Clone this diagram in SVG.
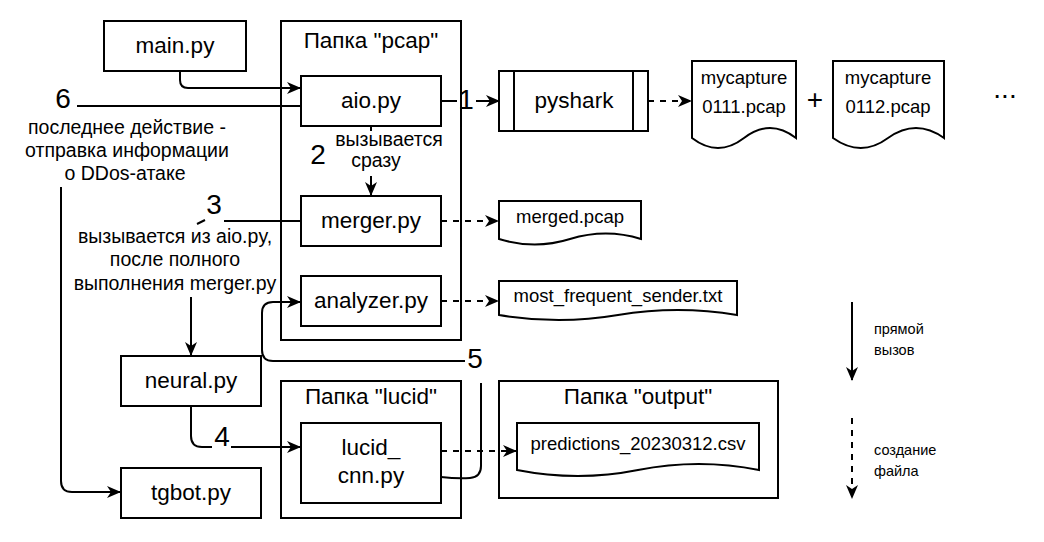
<svg xmlns="http://www.w3.org/2000/svg" width="1044" height="542" viewBox="0 0 1044 542">
<style>
.box{fill:#fff;stroke:#000;stroke-width:2}
.folder{fill:none;stroke:#000;stroke-width:2}
.doc{fill:#fff;stroke:#000;stroke-width:2}
.ln{fill:none;stroke:#000;stroke-width:2}
.dash{stroke-dasharray:6 6}
text{font-family:"Liberation Sans",Arial,sans-serif;fill:#000}
.t22{font-size:22.5px;text-anchor:middle}
.t18{font-size:18.5px;text-anchor:middle}
.t19{font-size:19.5px;text-anchor:middle}
.num{font-size:28px;text-anchor:middle}
.leg{font-size:14.5px}
</style>
<defs>
<marker id="ah" viewBox="0 0 14 12" refX="13" refY="6" markerWidth="14" markerHeight="12" markerUnits="userSpaceOnUse" orient="auto">
<path d="M0,0 L14,6 L0,12 L4,6 Z" fill="#000"/>
</marker>
</defs>
<g id="pcap-folder">
<rect class="folder" x="281" y="21" width="180" height="319"/>
<text class="t22" x="371" y="48">Папка "pcap"</text>
</g>
<g id="lucid-folder">
<rect class="folder" x="281" y="381" width="180" height="137"/>
<text class="t22" x="371" y="404">Папка "lucid"</text>
</g>
<g id="output-folder">
<rect class="folder" x="499" y="381" width="279" height="117"/>
<text class="t22" x="638" y="404">Папка "output"</text>
</g>
<g id="main">
<rect class="box" x="104" y="21" width="142" height="50"/>
<text class="t22" x="175" y="53">main.py</text>
</g>
<g id="aio">
<rect class="box" x="301" y="76" width="140" height="50"/>
<text class="t22" x="371" y="108">aio.py</text>
</g>
<g id="merger">
<rect class="box" x="301" y="196" width="140" height="50"/>
<text class="t22" x="371" y="228">merger.py</text>
</g>
<g id="analyzer">
<rect class="box" x="301" y="276" width="140" height="50"/>
<text class="t22" x="371" y="308">analyzer.py</text>
</g>
<g id="pyshark">
<rect class="box" x="499" y="71" width="149" height="60"/>
<line class="ln" x1="514" y1="71" x2="514" y2="131"/>
<line class="ln" x1="633" y1="71" x2="633" y2="131"/>
<text class="t22" x="574" y="108">pyshark</text>
</g>
<g id="capture1">
<path class="doc" d="M692,61 L796,61 L796,138 Q770,118 744,138 Q718,158 692,138 Z"/>
<text class="t18" x="744" y="84">mycapture</text>
<text class="t18" x="744" y="113">0111.pcap</text>
</g>
<text class="num" x="815" y="109">+</text>
<g id="capture2">
<path class="doc" d="M833,61 L944,61 L944,138 Q916,118 888,138 Q861,158 833,138 Z"/>
<text class="t18" x="888" y="84">mycapture</text>
<text class="t18" x="888" y="113">0112.pcap</text>
</g>
<text class="num" x="1005" y="98">...</text>
<g id="merged">
<path class="doc" d="M499,201 L641,201 L641,239 Q606,228 570,239 Q535,250 499,239 Z"/>
<text class="t18" x="570" y="223">merged.pcap</text>
</g>
<g id="most-frequent">
<path class="doc" d="M499,281 L737,281 L737,315 Q678,305 618,315 Q559,325 499,315 Z"/>
<text class="t18" x="618" y="302">most_frequent_sender.txt</text>
</g>
<g id="neural">
<rect class="box" x="121" y="356" width="140" height="50"/>
<text class="t22" x="191" y="388">neural.py</text>
</g>
<g id="tgbot">
<rect class="box" x="121" y="468" width="140" height="50"/>
<text class="t22" x="191" y="500">tgbot.py</text>
</g>
<g id="lucid-cnn">
<rect class="box" x="301" y="423" width="140" height="80"/>
<text class="t22" x="371" y="455">lucid_</text>
<text class="t22" x="371" y="483">cnn.py</text>
</g>
<g id="predictions">
<path class="doc" d="M517,423 L759,423 L759,470 Q699,458 638,470 Q578,482 517,470 Z"/>
<text class="t18" x="638" y="450">predictions_20230312.csv</text>
</g>
<g id="connectors">
<path class="ln" d="M180,71 L180,80 Q180,88 188,88 L300,88" marker-end="url(#ah)"/>
<path class="ln" d="M77,106 L301,106"/>
<path class="ln" d="M61,187 L61,481 Q61,492 72,492 L120,492" marker-end="url(#ah)"/>
<path class="ln" d="M441,101 L457,101"/>
<path class="ln" d="M476,101 L499,101" marker-end="url(#ah)"/>
<path class="ln dash" d="M648,101 L691,101" marker-end="url(#ah)"/>
<path class="ln" d="M371,126 L371,131"/>
<path class="ln" d="M371,176 L371,195" marker-end="url(#ah)"/>
<path class="ln" d="M301,221 L224,221"/>
<path class="ln" d="M205,220 L197,224"/>
<path class="ln" d="M191,297 L191,355" marker-end="url(#ah)"/>
<path class="ln dash" d="M441,221 L498,221" marker-end="url(#ah)"/>
<path class="ln dash" d="M441,301 L498,301" marker-end="url(#ah)"/>
<path class="ln" d="M191,406 L191,436 Q191,447 202,447 L212,447"/>
<path class="ln" d="M231,447 L300,447" marker-end="url(#ah)"/>
<path class="ln" d="M441,477 Q458,479 470,478 Q481,477 481,466 L481,383"/>
<path class="ln" d="M465,361 L273,361 Q262,361 262,350 L262,313 Q262,302 273,302 L300,302" marker-end="url(#ah)"/>
<path class="ln dash" d="M441,451 L516,451" marker-end="url(#ah)"/>
<path class="ln" d="M852,302 L852,380" marker-end="url(#ah)"/>
<path class="ln dash" d="M852,418 L852,498" marker-end="url(#ah)"/>
</g>
<g id="labels">
<text class="num" x="63" y="108">6</text>
<text class="t19" x="127" y="134">последнее действие -</text>
<text class="t19" x="127" y="157">отправка информации</text>
<text class="t19" x="125" y="180">о DDos-атаке</text>
<text class="num" x="466" y="109">1</text>
<text class="num" x="318" y="164">2</text>
<text class="t19" x="389" y="146">вызывается</text>
<text class="t19" x="376" y="167">сразу</text>
<text class="num" x="214" y="214">3</text>
<text class="t19" x="175" y="243">вызывается из aio.py,</text>
<text class="t19" x="175" y="266">после полного</text>
<text class="t19" x="175" y="290">выполнения merger.py</text>
<text class="num" x="222" y="446">4</text>
<text class="num" x="475" y="368">5</text>
<text class="leg" x="874" y="334">прямой</text>
<text class="leg" x="874" y="355">вызов</text>
<text class="leg" x="874" y="455">создание</text>
<text class="leg" x="874" y="476">файла</text>
</g>
</svg>
